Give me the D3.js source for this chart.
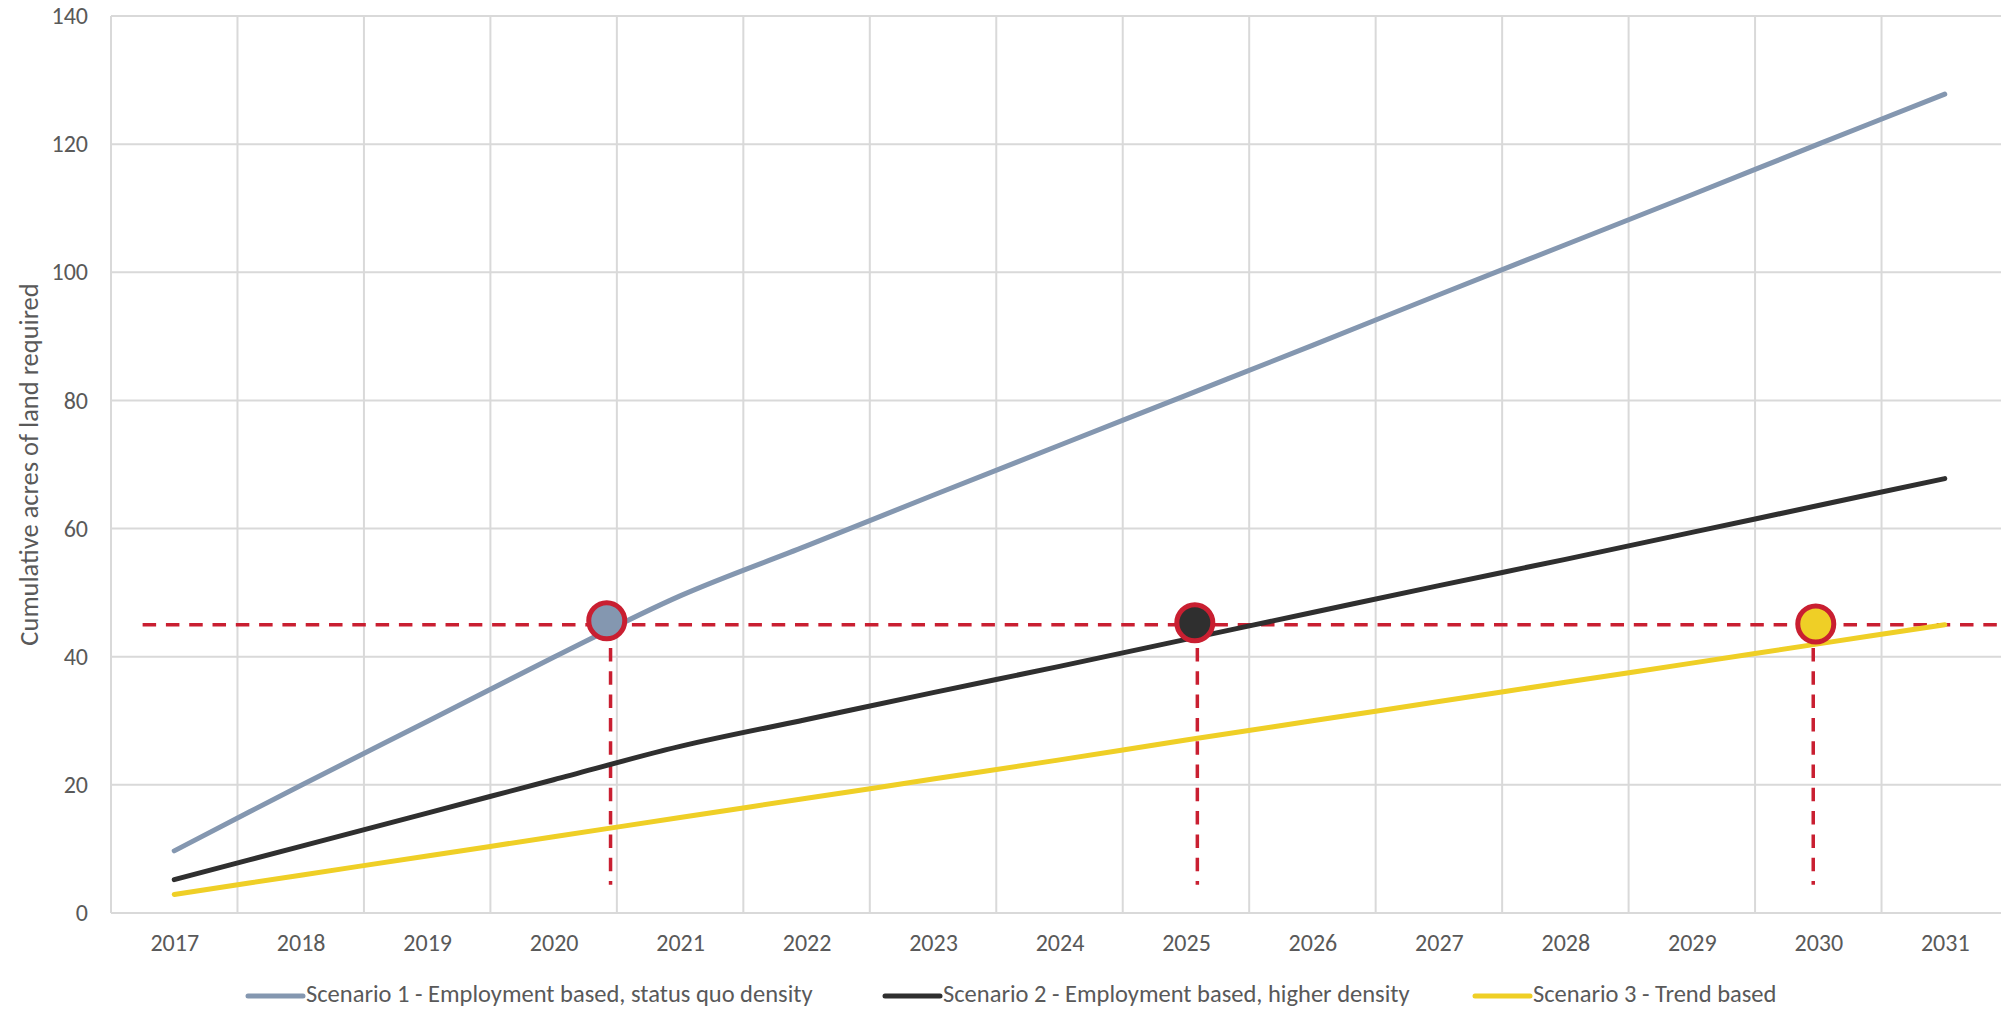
<!DOCTYPE html>
<html>
<head>
<meta charset="utf-8">
<script src="https://cdn.jsdelivr.net/npm/d3@7"></script>
<style>
  html, body { margin: 0; padding: 0; background: #ffffff; }
  svg { display: block; }
  text { font-family: Carlito, Lato, "Open Sans", sans-serif; fill: #595959; }
</style>
</head>
<body>
<svg id="chart" width="2001" height="1009"></svg>
<script>
// ---- data ----
const years = [2017, 2018, 2019, 2020, 2021, 2022, 2023, 2024, 2025, 2026, 2027, 2028, 2029, 2030, 2031];
const scenario1 = [9.7, 19.9, 29.9, 39.9, 49.5, 57.3, 65.2, 73.0, 80.8, 88.6, 96.5, 104.3, 112.1, 120.0, 127.8];
const scenario2 = [5.2, 10.4, 15.6, 20.8, 26.0, 30.2, 34.4, 38.5, 42.7, 46.9, 51.1, 55.2, 59.4, 63.6, 67.8];
const scenario3 = [2.9, 5.9, 8.9, 11.9, 14.9, 17.9, 20.9, 23.9, 27.0, 30.0, 33.0, 36.0, 39.0, 42.0, 45.0];
const seriesNames = [
  "Scenario 1  - Employment based, status quo density",
  "Scenario 2 - Employment based, higher density",
  "Scenario 3 - Trend based"
];
const yTicks = [0, 20, 40, 60, 80, 100, 120, 140];
const yTitle = "Cumulative acres of land required";
// threshold reference line and crossing markers
const thresholdValue = 45;
const thresholdStartYear = 2016.75;
const crossingYears = [2020.42, 2025.07, 2029.98];
const crossingValues = [45.6, 45.3, 45.1];
const dropYears = [2020.45, 2025.09, 2029.96];
const dropBottomValue = 4.4;

// ---- styles ----
const colors = ["#8497B0", "#2F2F2F", "#EFCF26"];
const red = "#C91F31";
const gridColor = "#D9D9D9";
const fontStack = "Carlito, Lato, 'Open Sans', sans-serif";

const svg = d3.select("#chart");
const W = 2001, H = 1009;
const margin = { left: 111, top: 16, bottom: 96 };
const plotRight = 2008; // chart continues slightly beyond the visible edge
const x = d3.scaleLinear().domain([years[0] - 0.5, years[years.length - 1] + 0.5]).range([margin.left, plotRight]);
const y = d3.scaleLinear().domain([0, 140]).range([H - margin.bottom, margin.top]);

// gridlines horizontal
svg.append("g").selectAll("line").data(yTicks).join("line")
  .attr("x1", margin.left).attr("x2", W)
  .attr("y1", d => y(d)).attr("y2", d => y(d))
  .attr("stroke", gridColor).attr("stroke-width", 2);

// gridlines vertical (category boundaries)
const bounds = d3.range(years.length + 1).map(i => years[0] - 0.5 + i);
svg.append("g").selectAll("line").data(bounds).join("line")
  .attr("x1", d => x(d)).attr("x2", d => x(d))
  .attr("y1", y(140)).attr("y2", y(0))
  .attr("stroke", gridColor).attr("stroke-width", 2);

// y axis labels
const yAxis = d3.axisLeft(y).tickValues(yTicks).tickSize(0).tickPadding(23);
const gy = svg.append("g").attr("transform", `translate(${margin.left},0)`).call(yAxis);
gy.select(".domain").remove();
gy.selectAll("text").style("font-size", "24px").attr("fill", "#595959")
  .style("font-family", fontStack);

// x axis labels
const xAxis = d3.axisBottom(x).tickValues(years).tickFormat(d3.format("d")).tickSize(0).tickPadding(21);
const gx = svg.append("g").attr("transform", `translate(0,${y(0)})`).call(xAxis);
gx.select(".domain").remove();
gx.selectAll("text").style("font-size", "24px").attr("fill", "#595959")
  .style("font-family", fontStack);

// y title
svg.append("text")
  .attr("transform", `translate(29,${(y(0) + y(140)) / 2}) rotate(-90)`)
  .attr("text-anchor", "middle")
  .attr("dominant-baseline", "central")
  .style("font-size", "26.5px")
  .text(yTitle);

// threshold dashed lines
svg.append("line")
  .attr("x1", x(thresholdStartYear)).attr("x2", W)
  .attr("y1", y(thresholdValue)).attr("y2", y(thresholdValue))
  .attr("stroke", red).attr("stroke-width", 3.5).attr("stroke-dasharray", "13.5,9.8");

svg.append("g").selectAll("line").data(dropYears).join("line")
  .attr("x1", d => x(d)).attr("x2", d => x(d))
  .attr("y1", y(thresholdValue)).attr("y2", y(dropBottomValue))
  .attr("stroke", red).attr("stroke-width", 3.5).attr("stroke-dasharray", "13.5,9.8");

// series lines
const allSeries = [scenario1, scenario2, scenario3];
const line = d3.line()
  .x((d, i) => x(years[i]))
  .y(d => y(d))
  .curve(d3.curveCatmullRom.alpha(0.5));
svg.append("g").selectAll("path").data(allSeries).join("path")
  .attr("d", d => line(d))
  .attr("fill", "none")
  .attr("stroke", (d, i) => colors[i])
  .attr("stroke-width", 5)
  .attr("stroke-linecap", "round")
  .attr("stroke-linejoin", "round");

// markers
svg.append("g").selectAll("circle").data(crossingYears).join("circle")
  .attr("cx", d => x(d))
  .attr("cy", (d, i) => y(crossingValues[i]))
  .attr("r", 18)
  .attr("fill", (d, i) => colors[i])
  .attr("stroke", red)
  .attr("stroke-width", 5);

// legend
const legendX = [248, 885, 1475];
const legendY = 996;
const lg = svg.append("g").selectAll("g").data(seriesNames).join("g")
  .attr("transform", (d, i) => `translate(${legendX[i]},${legendY})`);
lg.append("line").attr("x1", 0).attr("x2", 55).attr("y1", 0).attr("y2", 0)
  .attr("stroke", (d, i) => colors[i]).attr("stroke-width", 5).attr("stroke-linecap", "round");
lg.append("text").attr("x", 58).attr("y", 6)
  .style("font-size", "24.5px").text(d => d);
</script>
</body>
</html>
